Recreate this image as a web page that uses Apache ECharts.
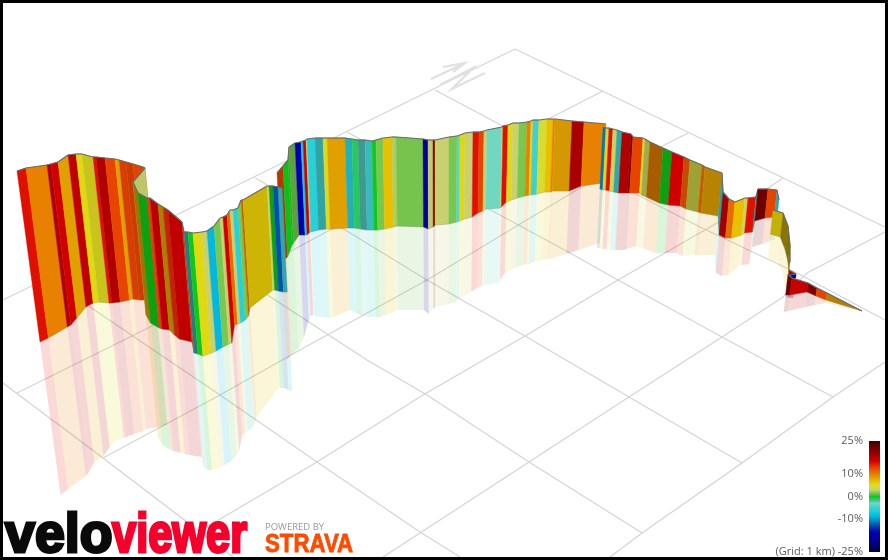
<!DOCTYPE html>
<html><head><meta charset="utf-8">
<style>html,body{margin:0;padding:0;background:#fff}#c{width:888px;height:560px}</style>
<script src="https://cdn.jsdelivr.net/npm/echarts@6/dist/echarts.min.js"></script>
</head><body><div id="c"></div>
<script>
// Stations along the ribbon (sections: first climb, far wall, tail, front wall)
const stationX = [
 17,26,47,51,58,68,76,82,93,96,105,115,119,126,133,143,145,133,
 277,283,288,289,295,301,303,306,307,315,323,327,345,352,358,365,372,376,383,392,396,423,428,433,435,449,457,460,465,473,479,484,487,502,503,508,513,519,527,531,533,539,547,553,555,572,584,606,
 603,606,609,613,617,622,631,633,643,645,650,663,672,684,690,702,705,722,723,729,735,745,748,756,758,768,777,779,773,783,788,790,790,789,796,790,788,792,808,817,827,862,
 133,138,147,150,158,163,168,182,184,188,193,202,207,214,220,223,227,230,233,238,241,243,267,269,273,278,282];
const topLine = [
 171,168,165,164,162,155,154,154,157,157,158,159,160,162,164,167,168,182,
 173,166,160,147,143,142,141,140,139,138,138,138,138,139,140,140,141,140,138,137,137,139,140,140,140,137,136,135,133,132,132,131,130,127,126,125,123,123,122,121,120,120,119,119,119,121,122,124,
 127,128,128,129,130,132,134,137,138,139,142,148,152,157,160,165,167,173,192,199,202,198,198,197,189,189,190,200,210,213,226,245,262,270,274,275,274,278,283,288,293,311,
 182,193,198,198,204,207,210,222,232,232,233,232,231,226,218,217,215,210,210,208,200,200,186,186,186,187,188];
const groundLine = [
 342,338,327,325,318,307,303,302,303,303,302,300,299,300,300,300,300,315,
 262,257,245,243,235,235,235,232,232,230,229,229,228,228,229,230,230,230,229,227,226,227,229,227,225,224,222,221,219,217,213,211,209,208,207,202,200,198,196,195,195,194,192,192,191,191,186,183,
 189,190,190,191,192,193,193,193,193,195,197,203,205,206,209,212,213,216,235,238,238,235,233,232,221,218,217,222,234,237,250,262,272,275,278,279,295,295,292,296,300,311,
 315,323,328,329,330,335,339,342,353,354,356,353,351,347,344,343,325,324,323,320,316,308,290,290,291,292,292];
const mirrorLine = [
 495,489,476,472,462,456,447,441,438,437,434,431,429,428,427,425,425,437,
 360,354,350,349,337,320,316,315,316,317,318,317,310,313,316,317,317,317,315,311,310,310,314,309,307,304,302,298,296,292,288,286,285,283,280,273,271,268,265,264,264,262,260,259,259,254,250,243,
 248,248,249,249,250,250,250,249,246,247,248,253,253,253,256,255,255,255,273,276,275,267,265,264,247,244,240,240,258,262,272,288,297,297,298,298,312,311,307,305,303,311,
 437,445,450,451,453,454,455,457,467,470,470,467,465,461,455,451,435,433,431,428,422,417,389,388,388,390,392];
// Gradient (%) of the stripe leaving each station; null ends a section
const grades = [
 15,10,18,16,8.5,17,5.5,5,15,18,13,8.5,13,13,13,13,3,null,
 13,0,0,1.5,-16,-7,16,3,-6,-5,5,8.5,-6,-1,-4,-5,0,1.5,7,2.5,1.5,-19,3,21,3,1.5,-4,5.5,3,15,13,3,-3,3,15,5,3,1.5,10,5.5,-5,4.5,7,10,8.5,18.5,10,null,
 -11,5.5,15,3.5,-5,18,21,13,5,3.5,10,0,16,12,4,11,8.5,-5,19,11,7,3.5,15,-5,22,13,-5,null,6,7,6,6,null,18,-16,null,22,16.5,21,13,8.5,null,
 8.5,0,13,17,8,14,17,13,-5,0,5.5,3,-9,1.5,3,16,11,3,-6,1.5,11,6.5,3,0,-13,-5,null];
// Brightness of each stripe from how its wall faces the light
const shading = [
 1,1,1,1,1,1,1,.9,1,1,1,1,.93,.88,.98,1,.95,1,
 .8,.95,.95,.8,1,1,1,1,1,.78,1,1,.85,1,.72,.9,1,1,1,1,.98,1,.97,1,1,1,1,1,1,1,1,1,1,1,1,1,1,1,1,1,1,1,1,1,.95,1,1,1,
 .9,1,1,1,.8,1,1,1,1,.8,.72,.8,1,.85,.75,.85,.82,.75,1,1,1,1,1,.7,1,1,.8,1,.85,.6,.55,.55,1,1,1,1,1,1,1,1,.8,1,
 .72,.8,.95,.97,.75,.85,1,.9,.6,1,1,1,1,1,1,1,1,1,1,1,.9,.9,1,.8,1,.8,1];
// Stripes of the first climb whose reflection falls behind the front wall
const hiddenReflections = [15,16];
// Scale: gradient % -> colour
const gradeStops = [
 [25,'#3c0000'],[21,'#800000'],[18,'#b00000'],[16,'#d00000'],[15,'#e01000'],[13,'#e64400'],[10,'#e88000'],[8.5,'#e0a000'],[7,'#e8c000'],[5.5,'#e0d810'],[4.5,'#d8dc30'],[3,'#c8d070'],[1.5,'#78c850'],[0,'#10c818'],[-2,'#40c8a0'],[-3,'#70d8c0'],[-5,'#40d0d0'],[-7,'#10d0e0'],[-9,'#00b8e0'],[-13,'#0050b0'],[-16,'#0000b0'],[-20,'#000090'],[-25,'#000040']];
const legendTicks = [['25%',25],['10%',10],['0%',0],['-10%',-10],['(Grid: 1 km) -25%',-25]];
// 1 km ground grid and north marker
const gridLines = [
 [[515,49],[3,300]],
 [[603,91],[330,230],[150,327],[17,393]],
 [[688,133],[580,188],[427,280],[300,350],[220,395],[103,458]],
 [[783,178],[717,223],[618,280],[525,336],[423,395],[317,462],[205,528]],
 [[885,232],[807,273],[783,297],[722,337],[629,397],[529,462],[440,520],[383,557]],
 [[885,362],[833,397],[742,463],[642,533],[610,557]],
 [[515,49],[885,227]],
 [[435,90],[497,123],[700,227],[797,273],[885,320]],
 [[347,132],[570,253],[618,280],[722,337],[833,397]],
 [[255,178],[342,228],[427,280],[525,336],[629,397],[742,463]],
 [[155,222],[263,292],[367,360],[427,395],[529,462],[642,533]],
 [[45,276],[90,307],[220,395],[317,462],[420,532],[460,557]],
 [[3,383],[103,458],[233,557]]];
const northMarker = [
 [[431,79],[465,63]],
 [[443,67],[465,63],[453,72]],
 [[440,85],[473,68],[452,89],[485,73]]];
const vanishing = [440,3316];

function hex(c){return [1,3,5].map(i=>parseInt(c.substr(i,2),16));}
function colorOf(g,l){
  l = l==null?1:l;
  let a=gradeStops[0],b=gradeStops[gradeStops.length-1];
  for(let k=0;k<gradeStops.length-1;k++){
    if(g<=gradeStops[k][0]&&g>=gradeStops[k+1][0]){a=gradeStops[k];b=gradeStops[k+1];break;}
  }
  const t=a[0]===b[0]?0:(a[0]-g)/(a[0]-b[0]);
  const ca=hex(a[1]),cb=hex(b[1]);
  return 'rgb('+ca.map((v,i)=>Math.round((v+(cb[i]-v)*t)*l)).join(',')+')';
}
function lean(i,y){ // verticals converge on the vanishing point of the view
  const x=stationX[i],t=topLine[i];
  return [x+(vanishing[0]-x)*(y-t)/(vanishing[1]-t),y];
}
const stripes = grades.map((g,i)=>g===null?null:i).filter(v=>v!==null).map(i=>[i]);
const reflections = stripes.filter(s=>hiddenReflections.indexOf(s[0])<0);

function polyRender(lines,width,color){
  return function(params,api){
    const pts=lines[api.value(0)].map(p=>api.coord(p));
    return {type:'polyline',shape:{points:pts},style:{stroke:color,lineWidth:width,fill:null},silent:true};
  };
}
const chart=echarts.init(document.getElementById('c'),null,{renderer:'canvas'});
const legendTop=441,legendH=111;
const graphics=[
  {type:'rect',z:50,shape:{x:869,y:legendTop,width:11,height:legendH},style:{fill:new echarts.graphic.LinearGradient(0,0,0,1,gradeStops.map(s=>({offset:(25-s[0])/50,color:s[1]})))}},
  ...legendTicks.map(t=>({type:'text',z:50,x:863,y:legendTop+(25-t[1])/50*legendH,style:{text:t[0],align:'right',verticalAlign:'middle',font:'11px "Open Sans"',fill:'#5a5a5a'}})),
  {type:'text',z:50,x:5,y:565,scaleX:.96,style:{text:'velo',verticalAlign:'bottom',font:'bold 56px "Liberation Sans"',fill:'#0a0a0a',stroke:'#0a0a0a',lineWidth:3}},
  {type:'text',z:50,x:112,y:565,scaleX:.775,style:{text:'viewer',verticalAlign:'bottom',font:'bold 56px "Liberation Sans"',fill:'#f5002d',stroke:'#f5002d',lineWidth:3}},
  {type:'text',z:50,x:265,y:527,style:{text:'POWERED BY',verticalAlign:'middle',font:'9.5px "Open Sans"',fill:'#999'}},
  {type:'text',z:50,x:265,y:545,scaleX:.89,style:{text:'STRAVA',verticalAlign:'middle',font:'bold 25px "Liberation Sans"',fill:'#fc4c02',stroke:'#fc4c02',lineWidth:.8}},
  {type:'rect',z:100,shape:{x:1.5,y:1.5,width:885,height:557},style:{fill:null,stroke:'#000',lineWidth:3}}
];
const common={type:'custom',coordinateSystem:'cartesian2d',silent:true,clip:false,animation:false,encode:{x:-1,y:-1}};
chart.setOption({
  animation:false,backgroundColor:'#fff',
  grid:{left:0,right:0,top:0,bottom:0,containLabel:false},
  xAxis:{type:'value',min:0,max:888,show:false},
  yAxis:{type:'value',min:0,max:560,inverse:true,show:false},
  tooltip:{show:false},
  series:[
    {...common,data:gridLines.map((_,i)=>[i]),renderItem:polyRender(gridLines,1.2,'#d4d4d4')},
    {...common,data:northMarker.map((_,i)=>[i]),renderItem:polyRender(northMarker,2.2,'#e0e0e0')},
    {...common,data:reflections,renderItem:function(p,api){
      const i=api.value(0),j=i+1;
      const pts=[lean(i,groundLine[i]),lean(j,groundLine[j]),lean(j,mirrorLine[j]),lean(i,mirrorLine[i])].map(q=>api.coord(q));
      return {type:'polygon',shape:{points:pts},style:{fill:colorOf(grades[i],1),opacity:.16},silent:true};
    }},
    {...common,data:stripes,renderItem:function(p,api){
      const i=api.value(0),j=i+1,col=colorOf(grades[i],shading[i]);
      const t0=api.coord(lean(i,topLine[i])),t1=api.coord(lean(j,topLine[j])),b1=api.coord(lean(j,groundLine[j])),b0=api.coord(lean(i,groundLine[i]));
      return {type:'group',children:[
        {type:'polygon',shape:{points:[t0,t1,b1,b0]},style:{fill:col,stroke:col,lineWidth:.4}},
        {type:'polyline',shape:{points:[b0,b1]},style:{stroke:'#777',opacity:.3,lineWidth:.8,fill:null}},
        {type:'polyline',shape:{points:[t0,t1]},style:{stroke:'#6a6a6a',lineWidth:1.2,fill:null}}
      ]};
    }}
  ],
  graphic:graphics
});
</script></body></html>
